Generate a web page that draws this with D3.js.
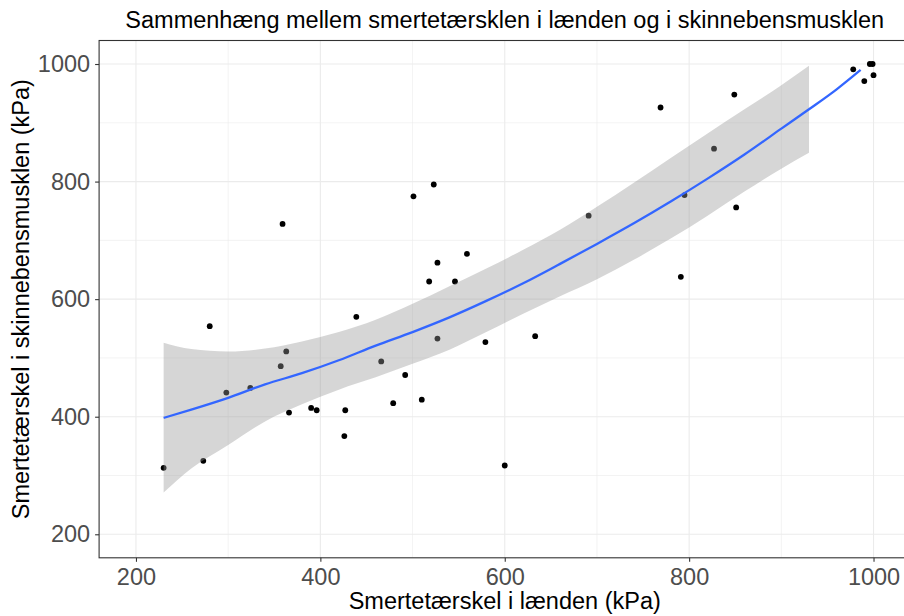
<!DOCTYPE html>
<html>
<head>
<meta charset="utf-8">
<script src="https://cdn.jsdelivr.net/npm/d3@7"></script>
<style>
  html, body { margin: 0; padding: 0; background: #ffffff; }
  svg { display: block; font-family: "Liberation Sans", Arial, sans-serif; }
</style>
</head>
<body>
<svg id="chart" width="904" height="616"></svg>
<script>
// Pain pressure thresholds (kPa): lower back (x) vs. shin muscle (y)
const lowerBack = [230, 273, 280, 298, 324, 357, 359, 363, 366, 390, 396, 426, 427, 439, 466,
                   479, 492, 501, 510, 518, 523, 527, 527, 546, 559, 579, 600, 633, 691, 769,
                   791, 795, 827, 849, 851, 978, 990, 996, 999, 1000];
const shinMuscle = [313, 325, 554, 441, 449, 486, 728, 511, 407, 415, 411, 367, 411, 570, 494,
                    423, 471, 775, 429, 630, 795, 662, 533, 630, 677, 527, 317, 537, 742, 926,
                    638, 777, 856, 948, 756, 991, 971, 1000, 1000, 981];

// Smoothed trend (loess) and its confidence band
const fitX     = [230, 260, 300, 340, 380, 420, 460, 500, 540, 580, 620, 660, 700, 740, 780, 820, 860, 900, 930, 960, 986];
const fitY     = [398, 412, 432, 455, 474, 496, 521, 544, 569, 597, 627, 660, 694, 729, 766, 805, 846, 890, 923, 957, 990];
const bandX    = [230, 260, 300, 340, 380, 420, 460, 500, 540, 580, 620, 660, 700, 740, 780, 820, 860, 900, 930];
const bandLow  = [271, 312, 352, 392, 421, 446, 467, 490, 514, 544, 575, 605, 634, 667, 703, 742, 783, 822, 849];
const bandHigh = [526, 515, 511, 516, 528, 544, 565, 592, 622, 652, 684, 718, 757, 798, 840, 882, 923, 964, 997];

const majorTicks = [200, 400, 600, 800, 1000];
const minorTicks = [300, 500, 700, 900];

const titleText = "Sammenhæng mellem smertetærsklen i lænden og i skinnebensmusklen";
const xTitle = "Smertetærskel i lænden (kPa)";
const yTitle = "Smertetærskel i skinnebensmusklen (kPa)";

const svg = d3.select("#chart");
const W = 904, H = 616;
const panel = { left: 99.1, right: 910.4, top: 40.5, bottom: 557.8 };

const x = d3.scaleLinear().domain([160, 1040]).range([panel.left, panel.right]);
const y = d3.scaleLinear().domain([160, 1040]).range([panel.bottom, panel.top]);

svg.append("rect").attr("width", W).attr("height", H).attr("fill", "#ffffff");

svg.append("defs").append("clipPath").attr("id", "panelClip")
  .append("rect")
  .attr("x", panel.left).attr("y", panel.top)
  .attr("width", panel.right - panel.left).attr("height", panel.bottom - panel.top);

const plot = svg.append("g").attr("clip-path", "url(#panelClip)");

// grid lines
const grid = plot.append("g").attr("stroke", "#EBEBEB").attr("fill", "none");
grid.selectAll("line.vmin").data(minorTicks).join("line")
  .attr("x1", d => x(d)).attr("x2", d => x(d))
  .attr("y1", panel.top).attr("y2", panel.bottom).attr("stroke-width", 0.6);
grid.selectAll("line.hmin").data(minorTicks).join("line")
  .attr("y1", d => y(d)).attr("y2", d => y(d))
  .attr("x1", panel.left).attr("x2", panel.right).attr("stroke-width", 0.6);
grid.selectAll("line.vmaj").data(majorTicks).join("line")
  .attr("x1", d => x(d)).attr("x2", d => x(d))
  .attr("y1", panel.top).attr("y2", panel.bottom).attr("stroke-width", 1.1);
grid.selectAll("line.hmaj").data(majorTicks).join("line")
  .attr("y1", d => y(d)).attr("y2", d => y(d))
  .attr("x1", panel.left).attr("x2", panel.right).attr("stroke-width", 1.1);

// observations
const pts = lowerBack.map((v, i) => ({ x: v, y: shinMuscle[i] }));
plot.append("g").selectAll("circle").data(pts).join("circle")
  .attr("cx", d => x(d.x)).attr("cy", d => y(d.y))
  .attr("r", 2.9).attr("fill", "#000000");

// confidence band
const band = bandX.map((v, i) => ({ x: v, lo: bandLow[i], hi: bandHigh[i] }));
plot.append("path").datum(band)
  .attr("fill", "#999999").attr("fill-opacity", 0.4)
  .attr("d", d3.area().x(d => x(d.x)).y0(d => y(d.lo)).y1(d => y(d.hi)).curve(d3.curveMonotoneX));

// trend line
const fit = fitX.map((v, i) => ({ x: v, y: fitY[i] }));
plot.append("path").datum(fit)
  .attr("fill", "none").attr("stroke", "#3366FF").attr("stroke-width", 2.3)
  .attr("d", d3.line().x(d => x(d.x)).y(d => y(d.y)).curve(d3.curveMonotoneX));

// panel border
svg.append("rect")
  .attr("x", panel.left).attr("y", panel.top)
  .attr("width", panel.right - panel.left).attr("height", panel.bottom - panel.top)
  .attr("fill", "none").attr("stroke", "#333333").attr("stroke-width", 1.1);

// axes
const fs = 23.5;
const xAxis = svg.append("g").attr("transform", `translate(0,${panel.bottom})`)
  .call(d3.axisBottom(x).tickValues(majorTicks).tickSize(4).tickPadding(6.5).tickFormat(d3.format("d")));
const yAxis = svg.append("g").attr("transform", `translate(${panel.left},0)`)
  .call(d3.axisLeft(y).tickValues(majorTicks).tickSize(4).tickPadding(5).tickFormat(d3.format("d")));
[xAxis, yAxis].forEach(a => {
  a.select(".domain").remove();
  a.selectAll(".tick line").attr("stroke", "#333333").attr("stroke-width", 1.1);
  a.selectAll(".tick text").attr("fill", "#4D4D4D").style("font-size", fs + "px")
    .style("font-family", "'Liberation Sans', Arial, sans-serif");
});

// titles
svg.append("text")
  .attr("x", (panel.left + panel.right) / 2).attr("y", 28)
  .attr("text-anchor", "middle").attr("fill", "#000000")
  .style("font-size", fs + "px").text(titleText);

svg.append("text")
  .attr("x", (panel.left + panel.right) / 2).attr("y", 609)
  .attr("text-anchor", "middle").attr("fill", "#000000")
  .style("font-size", fs + "px").text(xTitle);

svg.append("text")
  .attr("transform", `translate(28.5,${(panel.top + panel.bottom) / 2}) rotate(-90)`)
  .attr("text-anchor", "middle").attr("fill", "#000000")
  .style("font-size", fs + "px").text(yTitle);
</script>
</body>
</html>
